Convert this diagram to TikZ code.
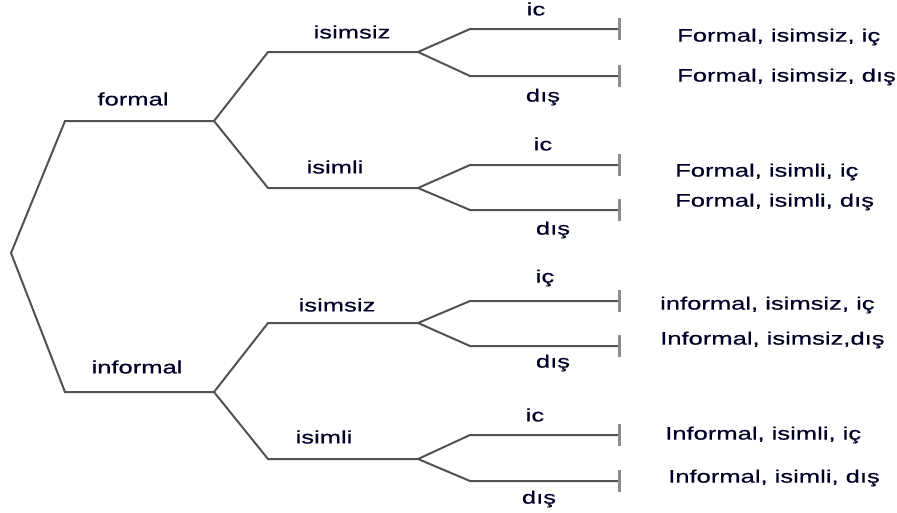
\documentclass[tikz,border=0pt]{standalone}
\usepackage{fontspec}
\setmainfont{Liberation Sans}[FakeStretch=1.42, FakeBold=0.6]
\usetikzlibrary{arrows.meta}

\tikzset{
    branch/.style={draw=black!68, line width=2pt},
    leaf/.style={branch, -{Bar[width=22pt, line width=3pt, black!45]}},
    lbl/.style={font=\fontsize{18}{20}\selectfont, text=black!85!blue, inner sep=0pt},
    res/.style={lbl, anchor=west}
}

\begin{document}
\begin{tikzpicture}[x=1pt, y=-1pt]
    \useasboundingbox (0,0) rectangle (897,512);

    \coordinate (root) at (11,253);
    \coordinate (f0) at (65,121);
    \coordinate (f1) at (214,121);
    \coordinate (i0) at (65,392);
    \coordinate (i1) at (214,392);

    \coordinate (fs0) at (268,52);   \coordinate (fs1) at (418,52);
    \coordinate (fl0) at (268,188);  \coordinate (fl1) at (418,188);
    \coordinate (is0) at (268,323);  \coordinate (is1) at (418,323);
    \coordinate (il0) at (268,459);  \coordinate (il1) at (418,459);

    \draw[branch] (f1) -- (f0) -- (root) -- (i0) -- (i1);
    \draw[branch] (fs1) -- (fs0) -- (f1) -- (fl0) -- (fl1);
    \draw[branch] (is1) -- (is0) -- (i1) -- (il0) -- (il1);

    % ic / dis forks
    \foreach \g/\a/\b in {fs1/29/76, fl1/165/210, is1/301/346, il1/435/481} {
        \coordinate (\g ic0) at (470,\a);
        \coordinate (\g ic1) at (621,\a);
        \coordinate (\g dis0) at (470,\b);
        \coordinate (\g dis1) at (621,\b);
        \draw[leaf] (\g) -- (\g ic0) -- (\g ic1);
        \draw[leaf] (\g) -- (\g dis0) -- (\g dis1);
    }

    \node[lbl] (formal) at (133,99) {formal};
    \node[lbl] (informal) at (137,367) {informal};

    \node[lbl] (fs) at (352,32) {isimsiz};
    \node[lbl] (fl) at (335,167) {isimli};
    \node[lbl] (is) at (337,305) {isimsiz};
    \node[lbl] (il) at (324,437) {isimli};

    \node[lbl] (fsic) at (536,9) {ic};
    \node[lbl] (fsdis) at (543,97) {dış};
    \node[lbl] (flic) at (543,144) {ic};
    \node[lbl] (fldis) at (553,230) {dış};
    \node[lbl] (isic) at (545,278) {iç};
    \node[lbl] (isdis) at (553,363) {dış};
    \node[lbl] (ilic) at (535,415) {ic};
    \node[lbl] (ildis) at (539,499) {dış};

    \node[res] (r1) at (677,37) {Formal, isimsiz, iç};
    \node[res] (r2) at (677,77) {Formal, isimsiz, dış};
    \node[res] (r3) at (675,172) {Formal, isimli, iç};
    \node[res] (r4) at (675,202) {Formal, isimli, dış};
    \node[res] (r5) at (660,305) {informal, isimsiz, iç};
    \node[res] (r6) at (660,340) {Informal, isimsiz,dış};
    \node[res] (r7) at (665,435) {Informal, isimli, iç};
    \node[res] (r8) at (668,478) {Informal, isimli, dış};
\end{tikzpicture}
\end{document}
